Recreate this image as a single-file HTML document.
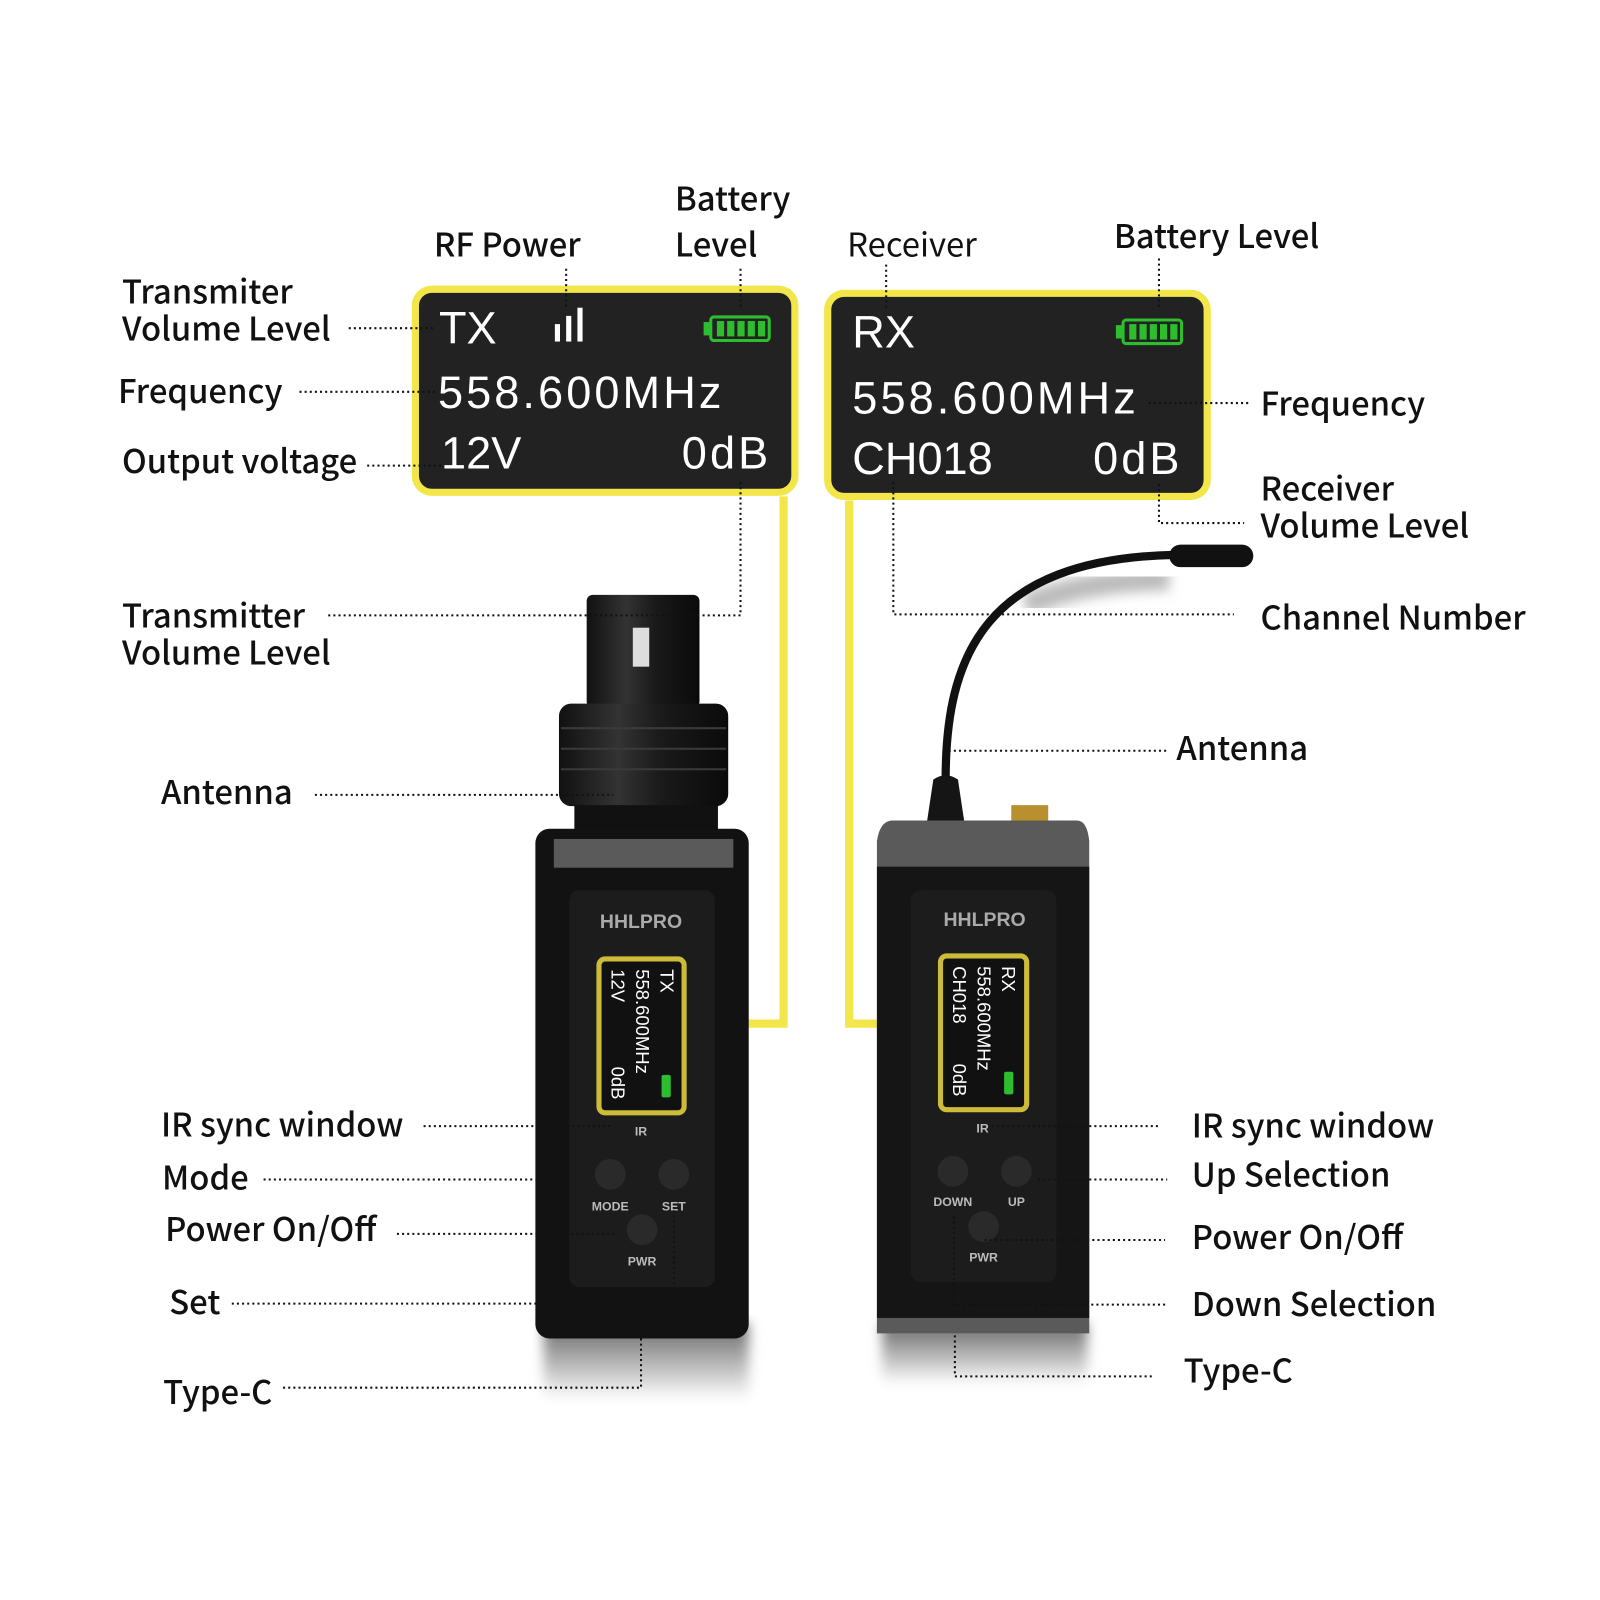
<!DOCTYPE html>
<html><head><meta charset="utf-8"><style>
html,body{margin:0;padding:0;background:#fff;}
svg{display:block}
.l{font-family:"Noto Sans CJK SC","Liberation Sans",sans-serif;font-weight:500;font-size:32px;fill:#111}
.s{font-family:"Liberation Sans",sans-serif;fill:#fff}
.d{stroke:#111;stroke-width:2;stroke-dasharray:2 3;fill:none}
.y{stroke:#f2e64a;stroke-width:8;fill:none}
</style></head><body>
<svg width="1600" height="1600" viewBox="0 0 1560 1560" xmlns="http://www.w3.org/2000/svg">
<defs>
<linearGradient id="sh" x1="0" y1="0" x2="0" y2="1"><stop offset="0" stop-color="#666"/><stop offset="1" stop-color="#fff"/></linearGradient>
<linearGradient id="cyl" x1="0" y1="0" x2="1" y2="0"><stop offset="0" stop-color="#111"/><stop offset=".35" stop-color="#333"/><stop offset=".6" stop-color="#1a1a1a"/><stop offset="1" stop-color="#0a0a0a"/></linearGradient>
<filter id="bl"><feGaussianBlur stdDeviation="6"/></filter>
</defs>

<!-- TX screen -->
<rect x="405" y="282" width="370" height="198" rx="16" fill="#222" stroke="#f2e64a" stroke-width="7"/>
<text class="s" x="428" y="335" font-size="44">TX</text>
<rect x="541" y="316" width="5" height="17" fill="#fff"/><rect x="552" y="308" width="5" height="25" fill="#fff"/><rect x="563" y="300" width="5" height="33" fill="#fff"/>
<rect x="693" y="309" width="57" height="23" rx="3" fill="none" stroke="#2ebd2e" stroke-width="3"/>
<rect x="686" y="314" width="7" height="13" fill="#2ebd2e"/>
<g fill="#2ebd2e"><rect x="699" y="313" width="7" height="15"/><rect x="709" y="313" width="7" height="15"/><rect x="719" y="313" width="7" height="15"/><rect x="729" y="313" width="7" height="15"/><rect x="739" y="313" width="7" height="15"/></g>
<text class="s" x="427" y="398" font-size="44" letter-spacing="3">558.600MHz</text>
<text class="s" x="430" y="457" font-size="44">12V</text>
<text class="s" x="752" y="457" font-size="44" text-anchor="end" letter-spacing="3">0dB</text>

<!-- RX screen -->
<rect x="807" y="286" width="370" height="198" rx="16" fill="#222" stroke="#f2e64a" stroke-width="7"/>
<text class="s" x="831" y="339" font-size="44">RX</text>
<rect x="1095" y="312" width="57" height="23" rx="3" fill="none" stroke="#2ebd2e" stroke-width="3"/>
<rect x="1088" y="317" width="7" height="13" fill="#2ebd2e"/>
<g fill="#2ebd2e"><rect x="1101" y="316" width="7" height="15"/><rect x="1111" y="316" width="7" height="15"/><rect x="1121" y="316" width="7" height="15"/><rect x="1131" y="316" width="7" height="15"/><rect x="1141" y="316" width="7" height="15"/></g>
<text class="s" x="831" y="403" font-size="44" letter-spacing="3">558.600MHz</text>
<text class="s" x="831" y="462" font-size="44">CH018</text>
<text class="s" x="1153" y="462" font-size="44" text-anchor="end" letter-spacing="3">0dB</text>

<!-- yellow connectors -->
<path class="y" d="M764 484 V998 H668"/>
<path class="y" d="M828 488 V998 H918"/>

<!-- TX device -->
<rect x="530" y="1290" width="200" height="75" fill="url(#sh)" filter="url(#bl)"/>
<rect x="572" y="580" width="110" height="110" rx="6" fill="url(#cyl)"/>
<rect x="617" y="612" width="16" height="38" fill="#ddd"/>
<rect x="545" y="686" width="165" height="100" rx="12" fill="url(#cyl)"/>
<g stroke="#3a3a3a" stroke-width="2"><line x1="547" y1="710" x2="708" y2="710"/><line x1="547" y1="730" x2="708" y2="730"/><line x1="547" y1="750" x2="708" y2="750"/></g>
<rect x="560" y="785" width="140" height="25" fill="#111"/>
<rect x="522" y="808" width="208" height="497" rx="14" fill="#121212"/>
<rect x="540" y="818" width="175" height="28" fill="#5a5a5a"/>
<rect x="555" y="868" width="142" height="387" rx="10" fill="#1c1c1c"/>
<text x="625" y="905" font-family="Liberation Sans" font-weight="bold" font-size="19" fill="#aaa" text-anchor="middle">HHLPRO</text>
<rect x="584" y="935" width="83" height="150" rx="6" fill="#111" stroke="#cdbb3a" stroke-width="5"/>
<g transform="translate(644,945) rotate(90)" class="s" font-size="18"><text x="0" y="0">TX</text><text x="0" y="24">558.600MHz</text><text x="0" y="48">12V</text><text x="95" y="48">0dB</text></g>
<rect x="645" y="1048" width="9" height="22" rx="2" fill="#2ebd2e"/>
<text x="625" y="1107" font-family="Liberation Sans" font-weight="bold" font-size="12" fill="#bbb" text-anchor="middle">IR</text>
<circle cx="595" cy="1145" r="15" fill="#2a2a2a"/><circle cx="657" cy="1145" r="15" fill="#2a2a2a"/><circle cx="626" cy="1199" r="15" fill="#2a2a2a"/>
<g font-family="Liberation Sans" font-weight="bold" font-size="12" fill="#bbb" text-anchor="middle"><text x="595" y="1180">MODE</text><text x="657" y="1180">SET</text><text x="626" y="1234">PWR</text></g>

<!-- RX device -->
<rect x="860" y="1290" width="200" height="60" fill="url(#sh)" filter="url(#bl)"/>
<path d="M1140 565 Q1060 565 1000 590" stroke="#bbb" stroke-width="22" fill="none" filter="url(#bl)"/>
<path d="M922 760 C922 640 960 545 1145 541" stroke="#111" stroke-width="8" fill="none"/>
<rect x="1140" y="531" width="82" height="22" rx="11" fill="#111"/>
<path d="M904 800 L910 760 Q922 752 934 760 L940 800 Z" fill="#151515"/>
<rect x="986" y="785" width="36" height="16" fill="#b8902e"/>
<path d="M870 800 H1050 Q1060 800 1062 820 V1300 H855 V820 Q858 800 870 800 Z" fill="#5a5a5a"/>
<rect x="855" y="845" width="207" height="440" fill="#151515"/>
<rect x="888" y="868" width="142" height="382" rx="10" fill="#1c1c1c"/>
<text x="960" y="903" font-family="Liberation Sans" font-weight="bold" font-size="19" fill="#aaa" text-anchor="middle">HHLPRO</text>
<rect x="917" y="932" width="84" height="150" rx="6" fill="#111" stroke="#cdbb3a" stroke-width="5"/>
<g transform="translate(977,942) rotate(90)" class="s" font-size="18"><text x="0" y="0">RX</text><text x="0" y="24">558.600MHz</text><text x="0" y="48">CH018</text><text x="95" y="48">0dB</text></g>
<rect x="979" y="1045" width="9" height="22" rx="2" fill="#2ebd2e"/>
<text x="958" y="1104" font-family="Liberation Sans" font-weight="bold" font-size="12" fill="#bbb" text-anchor="middle">IR</text>
<circle cx="929" cy="1142" r="15" fill="#2a2a2a"/><circle cx="991" cy="1142" r="15" fill="#2a2a2a"/><circle cx="959" cy="1196" r="15" fill="#2a2a2a"/>
<g font-family="Liberation Sans" font-weight="bold" font-size="12" fill="#bbb" text-anchor="middle"><text x="929" y="1176">DOWN</text><text x="991" y="1176">UP</text><text x="959" y="1230">PWR</text></g>

<!-- dotted leaders -->
<path class="d" d="M552 262 V300"/><path class="d" d="M722 262 V300"/>
<path class="d" d="M340 320 H425"/><path class="d" d="M292 382 H425"/><path class="d" d="M358 454 H432"/>
<path class="d" d="M864 258 V300"/><path class="d" d="M1130 252 V300"/>
<path class="d" d="M1120 393 H1218"/>
<path class="d" d="M1130 472 V510 H1213"/>
<path class="d" d="M871 470 V599 H1203"/>
<path class="d" d="M722 470 V600 H318"/>
<path class="d" d="M307 775 H598"/>
<path class="d" d="M925 732 H1140"/>
<path class="d" d="M413 1098 H598"/><path class="d" d="M257 1150 H548"/><path class="d" d="M387 1203 H600"/>
<path class="d" d="M657 1180 V1271 H225"/>
<path class="d" d="M625 1305 V1353 H275"/>
<path class="d" d="M967 1098 H1130"/><path class="d" d="M1012 1150 H1138"/><path class="d" d="M960 1209 H1136"/>
<path class="d" d="M930 1186 V1272 H1136"/>
<path class="d" d="M931 1302 V1342 H1125"/>

<!-- labels -->
<text class="l" x="658" y="205">Battery</text><text class="l" x="658" y="250">Level</text>
<text class="l" x="423" y="250">RF Power</text>
<text class="l" x="119" y="296">Transmiter</text><text class="l" x="119" y="332">Volume Level</text>
<text class="l" x="115" y="393">Frequency</text>
<text class="l" x="119" y="461">Output voltage</text>
<text class="l" x="826" y="250" style="font-weight:400">Receiver</text>
<text class="l" x="1086" y="242">Battery Level</text>
<text class="l" x="1229" y="405">Frequency</text>
<text class="l" x="1229" y="488">Receiver</text><text class="l" x="1229" y="524">Volume Level</text>
<text class="l" x="1229" y="614">Channel Number</text>
<text class="l" x="119" y="612">Transmitter</text><text class="l" x="119" y="648">Volume Level</text>
<text class="l" x="157" y="784">Antenna</text>
<text class="l" x="1147" y="741">Antenna</text>
<text class="l" x="157" y="1108">IR sync window</text>
<text class="l" x="158" y="1160">Mode</text>
<text class="l" x="161" y="1210">Power On/Off</text>
<text class="l" x="165" y="1281">Set</text>
<text class="l" x="159" y="1369">Type-C</text>
<text class="l" x="1162" y="1109">IR sync window</text>
<text class="l" x="1162" y="1157">Up Selection</text>
<text class="l" x="1162" y="1218">Power On/Off</text>
<text class="l" x="1162" y="1283">Down Selection</text>
<text class="l" x="1154" y="1348">Type-C</text>
</svg>
</body></html>
